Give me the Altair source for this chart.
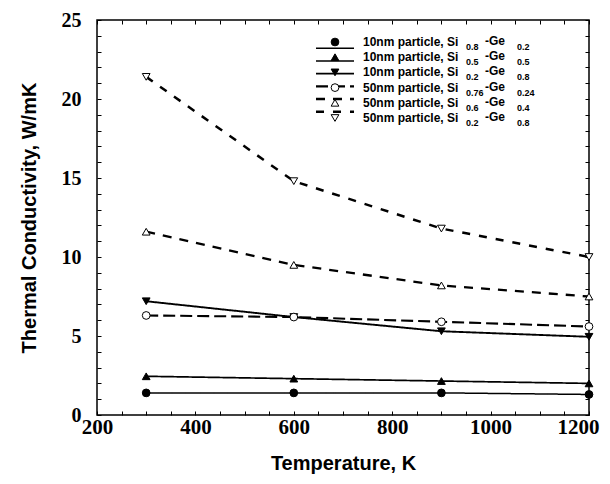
import altair as alt
import pandas as pd

# ---- data ----
temps = [300, 600, 900, 1200]
series = ["s1", "s2", "s3", "s4", "s5", "s6"]
k_s1 = [1.4, 1.4, 1.4, 1.3]      # 10nm Si0.8-Ge0.2 (filled circle)
k_s2 = [2.45, 2.3, 2.15, 2.0]    # 10nm Si0.5-Ge0.5 (filled up-triangle)
k_s3 = [7.2, 6.2, 5.3, 4.95]     # 10nm Si0.2-Ge0.8 (filled down-triangle)
k_s4 = [6.3, 6.2, 5.9, 5.6]      # 50nm Si0.76-Ge0.24 (open circle)
k_s5 = [11.6, 9.5, 8.2, 7.5]     # 50nm Si0.6-Ge0.4 (open up-triangle)
k_s6 = [21.4, 14.8, 11.8, 10.0]  # 50nm Si0.2-Ge0.8 (open down-triangle)
values = [k_s1, k_s2, k_s3, k_s4, k_s5, k_s6]

prefixes = ["10nm particle, Si", "10nm particle, Si", "10nm particle, Si",
            "50nm particle, Si", "50nm particle, Si", "50nm particle, Si"]
si_subs = ["0.8", "0.5", "0.2", "0.76", "0.6", "0.2"]
ge_subs = ["0.2", "0.5", "0.8", "0.24", "0.4", "0.8"]

x_ticks = list(range(200, 1201, 50))
y_ticks = list(range(0, 26, 1))

# ---- tables ----
rows = []
for s, vals in zip(series, values):
    for t, v in zip(temps, vals):
        rows.append({"series": s, "T": t, "k": v})
df = pd.DataFrame(rows)

leg = pd.DataFrame({
    "series": series,
    "row": list(range(len(series))),
    "prefix": prefixes,
    "si": si_subs,
    "ge": ge_subs,
    "dashge": ["-Ge"] * len(series),
})

# ---- style scales ----
dash_scale = alt.Scale(domain=series, range=[[1, 0], [1, 0], [1, 0], [12, 5], [9, 8], [8, 9]])
width_scale = alt.Scale(domain=series, range=[1.5, 2.5, 2.5, 3.5, 2.5, 2.2])
shape_scale = alt.Scale(domain=series, range=["circle", "triangle-up", "triangle-down",
                                              "circle", "triangle-up", "triangle-down"])
fill_scale = alt.Scale(domain=series, range=["black", "black", "black", "white", "white", "white"])

xs = alt.Scale(domain=[200, 1200], nice=False, zero=False)
ys = alt.Scale(domain=[0, 25], nice=False)

FONT = "Liberation Sans"
SERIF = "Liberation Serif"

x_axis = alt.Axis(values=x_ticks, format="d",
                  labelExpr="datum.value % 200 === 0 ? datum.label : ''",
                  labelOffset={"condition": {"test": "datum.value === 1200", "value": -11}, "value": 0},
                  tickSize=4, offset=-4, domain=False, grid=False, tickColor="black",
                  labelFont=SERIF, labelFontSize=21, labelFontWeight="bold", labelColor="black",
                  labelPadding=1, labelFlush=False, labelOverlap=False,
                  title="Temperature, K", titleFont=FONT, titleFontSize=20,
                  titleFontWeight="bold", titleColor="black", titlePadding=16)
y_axis = alt.Axis(values=y_ticks, format="d",
                  labelExpr="datum.value % 5 === 0 ? datum.label : ''",
                  tickSize=4, offset=-4, domain=False, grid=False, tickColor="black",
                  labelFont=SERIF, labelFontSize=20, labelFontWeight="bold", labelColor="black",
                  labelPadding=16, labelOverlap=False, labelFlush=False,
                  title="Thermal Conductivity, W/mK", titleFont=FONT, titleFontSize=20,
                  titleFontWeight="bold", titleColor="black", titlePadding=22)
x_axis_top = alt.Axis(orient="top", values=x_ticks, labels=False, tickSize=4, offset=-4,
                      domain=False, grid=False, tickColor="black", title=None)
y_axis_right = alt.Axis(orient="right", values=y_ticks, labels=False, tickSize=4, offset=-4,
                        domain=False, grid=False, tickColor="black", title=None)

lines = alt.Chart(df).mark_line(color="black").encode(
    x=alt.X("T:Q", scale=xs, axis=x_axis),
    y=alt.Y("k:Q", scale=ys, axis=y_axis),
    detail="series:N",
    strokeDash=alt.StrokeDash("series:N", scale=dash_scale, legend=None),
    strokeWidth=alt.StrokeWidth("series:N", scale=width_scale, legend=None),
)

points = alt.Chart(df).mark_point(filled=True, stroke="black", strokeWidth=1, size=60, opacity=1).encode(
    x=alt.X("T:Q", scale=xs, axis=x_axis_top),
    y=alt.Y("k:Q", scale=ys, axis=y_axis_right),
    shape=alt.Shape("series:N", scale=shape_scale, legend=None),
    fill=alt.Fill("series:N", scale=fill_scale, legend=None),
)

row_scale = alt.Scale(range=[22, 98], padding=0)
ly = alt.Y("row:O", scale=row_scale, axis=None)

leg_lines = alt.Chart(leg).mark_rule(color="black").encode(
    x=alt.value(219), x2=alt.value(257), y=ly,
    strokeDash=alt.StrokeDash("series:N", scale=dash_scale, legend=None),
    strokeWidth=alt.StrokeWidth("series:N", scale=width_scale, legend=None),
)
leg_pts = alt.Chart(leg).mark_point(filled=True, stroke="black", strokeWidth=1, size=60, opacity=1).encode(
    x=alt.value(238), y=ly,
    shape=alt.Shape("series:N", scale=shape_scale, legend=None),
    fill=alt.Fill("series:N", scale=fill_scale, legend=None),
)
txt_kw = dict(align="left", baseline="middle", font=FONT, fontWeight="bold", color="black")
leg_txt = alt.Chart(leg).mark_text(fontSize=12, **txt_kw).encode(
    x=alt.value(266), y=ly, text="prefix:N")
leg_si = alt.Chart(leg).mark_text(fontSize=9, dy=5, **txt_kw).encode(
    x=alt.value(369), y=ly, text="si:N")
leg_dash = alt.Chart(leg).mark_text(fontSize=12, dy=-1, **txt_kw).encode(
    x=alt.value(388), y=ly, text="dashge:N")
leg_ge = alt.Chart(leg).mark_text(fontSize=9, dy=5, **txt_kw).encode(
    x=alt.value(420), y=ly, text="ge:N")

chart = alt.layer(
    lines, points, leg_lines, leg_pts, leg_txt, leg_si, leg_dash, leg_ge
).resolve_scale(
    y="independent"
).resolve_axis(
    x="independent", y="independent"
).properties(
    width=492, height=395,
    autosize=alt.AutoSizeParams(type="none"),
    padding={"left": 89, "top": 12, "right": 13, "bottom": 60},
    background="white",
).configure_view(
    stroke="black", strokeWidth=1.5
)

chart.save("out.html", embed_options={"renderer": "svg", "actions": False})
